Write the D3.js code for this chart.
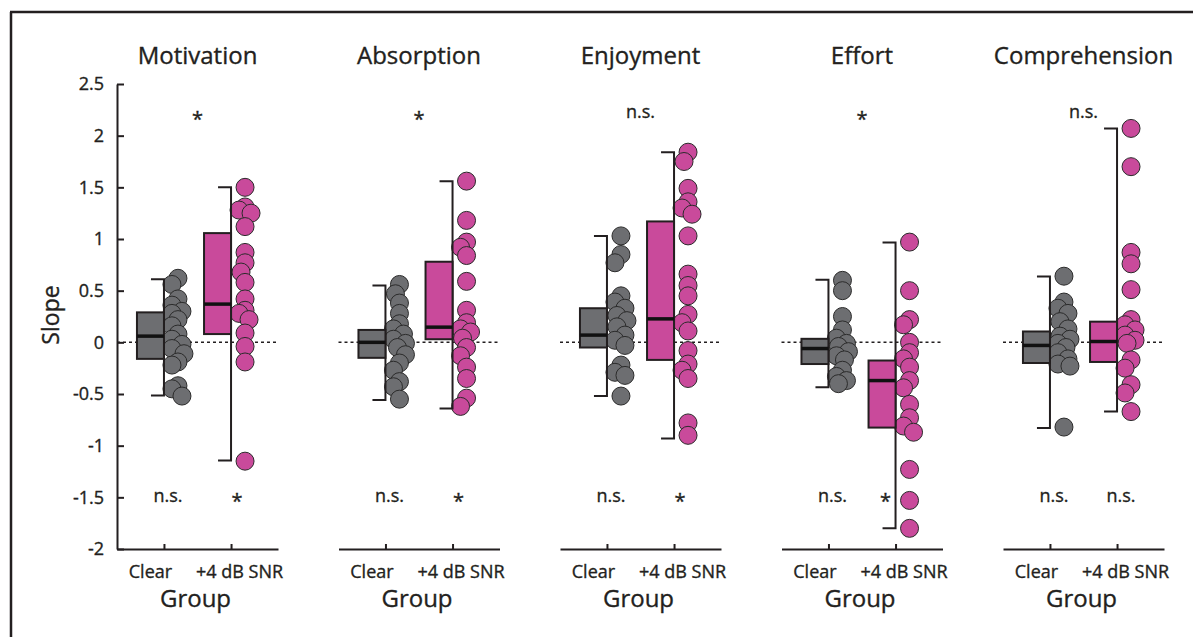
<!DOCTYPE html>
<html>
<head>
	<meta charset="utf-8">
	<title>Slope by group</title>
	<script type="text/javascript" src="https://d3js.org/d3.v7.min.js"></script>
	<style>
		body { margin: 0; background: #fff; }
		text { font-family: "Open Sans", "Noto Sans", sans-serif; fill: #231f20; stroke: #231f20; stroke-width: 0.35px; }
	</style>
</head>
<body>

	<script type="text/javascript">
		// panels and groups
		var panels = ["Motivation", "Absorption", "Enjoyment", "Effort", "Comprehension"];
		var groups = ["Clear", "+4 dB SNR"];
		var yTicks = [2.5, 2, 1.5, 1, 0.5, 0, -0.5, -1, -1.5, -2];

		// significance labels (top = between groups, bottom = per group)
		var sigTop = ["*", "*", "n.s.", "*", "n.s."];
		var sigClear = ["n.s.", "n.s.", "n.s.", "n.s.", "n.s."];
		var sigSnr = ["*", "*", "*", "*", "n.s."];
		var sigTopValue = 2.2;
		var sigBottomValue = -1.5;

		// box stats per panel: [q1, median, q3, whisker low, whisker high]
		var clearBox = [
			[-0.16, 0.06, 0.29, -0.515, 0.61],
			[-0.15, 0.0, 0.12, -0.557, 0.55],
			[-0.05, 0.07, 0.33, -0.52, 1.03],
			[-0.21, -0.06, 0.034, -0.434, 0.605],
			[-0.2, -0.03, 0.105, -0.83, 0.637]
		];
		var snrBox = [
			[0.08, 0.37, 1.057, -1.144, 1.50],
			[0.03, 0.147, 0.78, -0.64, 1.56],
			[-0.17, 0.227, 1.17, -0.93, 1.84],
			[-0.825, -0.37, -0.176, -1.80, 0.966],
			[-0.19, 0.008, 0.2, -0.67, 2.07]
		];

		// individual slopes
		var clearDots = [
			[0.62, 0.56, 0.42, 0.36, 0.30, 0.28, 0.22, 0.16, 0.08, 0.03, -0.02, -0.06, -0.11, -0.19, -0.22, -0.42, -0.45, -0.52],
			[0.56, 0.47, 0.38, 0.28, 0.18, 0.13, 0.08, 0.03, -0.01, -0.05, -0.12, -0.2, -0.27, -0.38, -0.43, -0.55],
			[1.03, 0.85, 0.77, 0.45, 0.39, 0.33, 0.26, 0.21, 0.15, 0.07, 0.02, -0.03, -0.22, -0.29, -0.32, -0.52],
			[0.6, 0.5, 0.25, 0.12, 0.04, -0.01, -0.04, -0.09, -0.13, -0.17, -0.27, -0.33, -0.37, -0.40],
			[0.64, 0.39, 0.33, 0.28, 0.2, 0.13, 0.06, 0.03, -0.01, -0.05, -0.1, -0.16, -0.21, -0.23, -0.82]
		];
		var snrDots = [
			[1.50, 1.31, 1.28, 1.25, 1.12, 0.87, 0.77, 0.68, 0.58, 0.42, 0.31, 0.28, 0.22, 0.09, -0.04, -0.19, -1.15],
			[1.56, 1.18, 0.97, 0.92, 0.84, 0.59, 0.31, 0.19, 0.13, 0.1, 0.04, -0.05, -0.13, -0.24, -0.35, -0.54, -0.62],
			[1.84, 1.75, 1.49, 1.36, 1.30, 1.24, 1.03, 0.66, 0.55, 0.45, 0.27, 0.19, 0.11, -0.08, -0.21, -0.27, -0.35, -0.78, -0.90],
			[0.97, 0.5, 0.22, 0.17, 0.0, -0.1, -0.16, -0.24, -0.37, -0.44, -0.6, -0.73, -0.81, -0.87, -1.23, -1.53, -1.8],
			[2.07, 1.70, 0.87, 0.76, 0.51, 0.22, 0.17, 0.12, 0.07, 0.02, -0.01, -0.17, -0.25, -0.41, -0.49, -0.67]
		];

		var colors = {"Clear": "#6d6e71", "+4 dB SNR": "#c94a9b"};

		var W = 1193, H = 637;
		var svg = d3.select("body").append("svg").attr("width", W).attr("height", H);

		// frame (top and left edges only)
		svg.append("path").attr("d", "M10,12H" + W + "M11,12V" + H)
			.attr("stroke", "#231f20").attr("stroke-width", 2.5).attr("fill", "none");

		var y = d3.scaleLinear().domain([-2, 2.5]).range([549, 84]);

		// each panel is 161px wide, panels start 221.5px apart
		var panelX = d3.scalePoint().domain(panels).range([117, 117 + 4 * 221.5]);
		var panelW = 161;

		// y axis on first panel only (plain hyphen for negatives, like the original)
		svg.append("g").attr("transform", "translate(117,0)")
			.call(d3.axisLeft(y).tickValues(yTicks).tickFormat(function (d) { return String(d); })
				.tickSizeInner(-7).tickSizeOuter(0).tickPadding(13))
			.call(function (g) {
				g.select(".domain").attr("stroke", "#231f20").attr("stroke-width", 2);
				g.selectAll(".tick line").attr("stroke", "#231f20").attr("stroke-width", 2);
				g.selectAll("text").attr("font-size", 18).attr("fill", "#231f20").attr("font-family", null);
			});

		svg.append("text").attr("transform", "translate(59,315) rotate(-90)")
			.attr("text-anchor", "middle").attr("font-size", 23).text("Slope");

		// place dots of one group so they don't pile up exactly
		function jitter(vals) {
			var cands = [0, -4, 4, -6, 6, -2, 2];
			var placed = [];
			return vals.map(function (v) {
				var best = 0, bestD = -1;
				for (var i = 0; i < cands.length; i++) {
					var d = Infinity;
					placed.forEach(function (p) {
						d = Math.min(d, Math.hypot(p.dx - cands[i], y(p.v) - y(v)));
					});
					if (d >= 10) { best = cands[i]; bestD = d; break; }
					if (d > bestD) { bestD = d; best = cands[i]; }
				}
				var o = {v: v, dx: best};
				placed.push(o);
				return o;
			});
		}

		panels.forEach(function (name, i) {
			var x0 = panelX(name);
			var x = d3.scalePoint().domain(groups).range([x0, x0 + panelW]).padding(0.7);
			var g = svg.append("g");

			// x axis with upward ticks
			g.append("g").attr("transform", "translate(0,549)")
				.call(d3.axisBottom(x).tickSizeInner(-5).tickSizeOuter(0).tickPadding(16))
				.call(function (a) {
					a.select(".domain").attr("stroke", "#231f20").attr("stroke-width", 2);
					a.selectAll(".tick line").attr("stroke", "#231f20").attr("stroke-width", 2);
					a.selectAll("text").attr("font-size", 18).attr("fill", "#231f20").attr("font-family", null)
						.attr("dx", function (d) { return d === "Clear" ? -14 : 8; });
				});

			g.append("text").attr("x", x0 + panelW / 2 - 2).attr("y", 607)
				.attr("text-anchor", "middle").attr("font-size", 24).text("Group");

			g.append("text").attr("x", x0 + panelW / 2).attr("y", 64)
				.attr("text-anchor", "middle").attr("font-size", 24).text(name);

			// zero reference line
			g.append("line").attr("x1", x0).attr("x2", x0 + panelW)
				.attr("y1", y(0)).attr("y2", y(0))
				.attr("stroke", "#231f20").attr("stroke-width", 1.5).attr("stroke-dasharray", "3,3");

			var sets = [
				{grp: "Clear", box: clearBox[i], dots: clearDots[i], sig: sigClear[i]},
				{grp: "+4 dB SNR", box: snrBox[i], dots: snrDots[i], sig: sigSnr[i]}
			];

			sets.forEach(function (s) {
				var cx = x(s.grp);
				var b = s.box;

				g.append("g").selectAll("circle")
					.data(jitter(s.dots))
					.enter()
					.append("circle")
					.attr("cx", function (d) { return cx + 14 + d.dx; })
					.attr("cy", function (d) { return y(d.v); })
					.attr("r", 9)
					.attr("fill", colors[s.grp])
					.attr("stroke", "#2b2b2b").attr("stroke-width", 1);

				// whisker with caps pointing left
				g.append("path")
					.attr("d", "M" + (cx - 13) + "," + y(b[4]) + "H" + cx + "V" + y(b[3]) + "H" + (cx - 13))
					.attr("fill", "none").attr("stroke", "#231f20").attr("stroke-width", 2);

				g.append("rect").attr("x", cx - 27).attr("width", 27)
					.attr("y", y(b[2])).attr("height", y(b[0]) - y(b[2]))
					.attr("fill", colors[s.grp]).attr("stroke", "#231f20").attr("stroke-width", 2);

				g.append("line").attr("x1", cx - 27).attr("x2", cx)
					.attr("y1", y(b[1])).attr("y2", y(b[1]))
					.attr("stroke", "#111").attr("stroke-width", 3.5);

				// bottom label moves left of the whisker when the whisker reaches it
				var star = s.sig === "*";
				var dx = b[3] < sigBottomValue ? -10 : (star ? 6 : 4);
				g.append("text").attr("x", cx + dx)
					.attr("y", y(sigBottomValue) + (star ? 11 : 5))
					.attr("text-anchor", "middle").attr("font-size", star ? 20 : 18).text(s.sig);
			});

			var star = sigTop[i] === "*";
			g.append("text").attr("x", x0 + panelW / 2)
				.attr("y", y(sigTopValue) + (star ? 11 : 3))
				.attr("text-anchor", "middle").attr("font-size", star ? 20 : 18).text(sigTop[i]);
		});
	</script>
</body>
</html>
